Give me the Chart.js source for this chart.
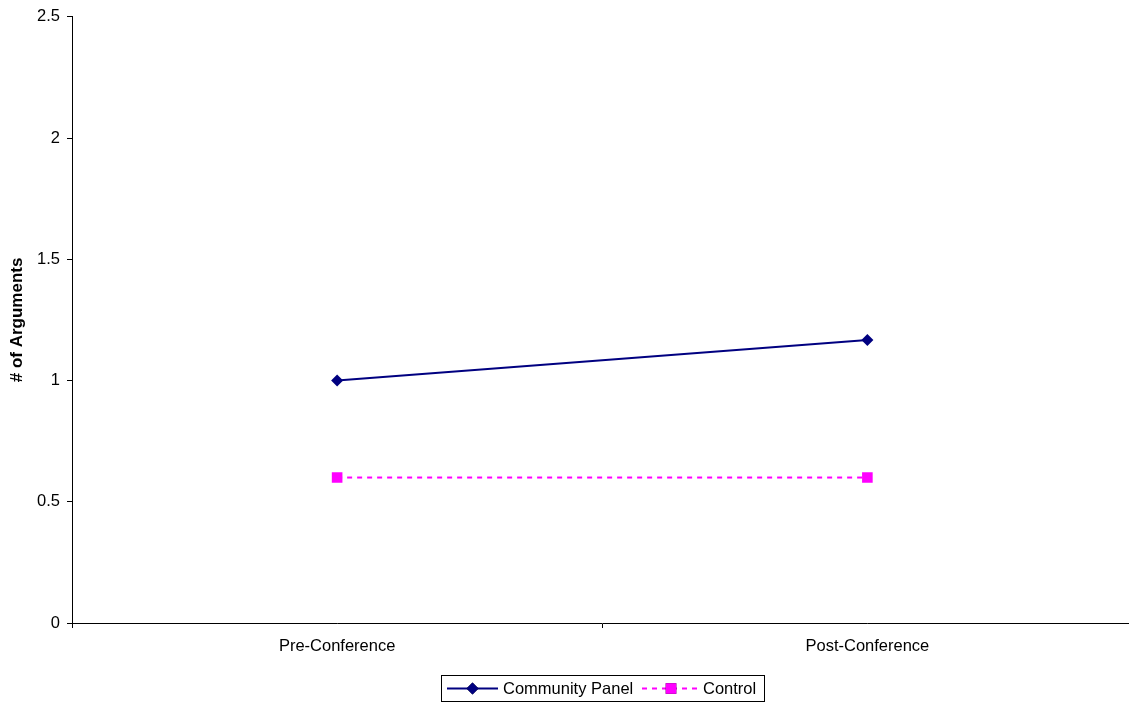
<!DOCTYPE html>
<html>
<head>
<meta charset="utf-8">
<title># of Arguments</title>
<script src="https://cdn.jsdelivr.net/npm/chart.js@4.4.1/dist/chart.umd.min.js"></script>
<style>
  html, body { margin: 0; padding: 0; background: #fff; overflow: hidden; }
  #wrap { position: relative; width: 1129px; height: 704px; overflow: hidden; }
  #chart { display: block; }
</style>
</head>
<body>
<div id="wrap"><canvas id="chart" width="1140" height="704"></canvas></div>
<script>
// Chart data
const categories = ['Pre-Conference', 'Post-Conference'];
const communityPanel = [1.0, 1.167];
const control = [0.6, 0.6];
const yTickLabels = ['0', '0.5', '1', '1.5', '2', '2.5'];
const seriesNames = ['Community Panel', 'Control'];

const FONT = '"Liberation Sans", Arial, Helvetica, sans-serif';
const TEXT_SIZE = 16.5;

// Boxed legend below the plot: line sample with marker, then the name
const boxedLegend = {
  id: 'boxedLegend',
  afterDraw(chart) {
    const ctx = chart.ctx;
    ctx.save();
    ctx.strokeStyle = '#000';
    ctx.lineWidth = 1;
    ctx.strokeRect(441.5, 675.5, 323, 26);
    const y = 688.5;
    const items = [
      { ds: chart.data.datasets[0], x0: 447, x1: 498, text: 503 },
      { ds: chart.data.datasets[1], x0: 642, x1: 700, text: 703 }
    ];
    items.forEach(it => {
      const ds = it.ds;
      ctx.beginPath();
      ctx.setLineDash(ds.borderDash || []);
      ctx.strokeStyle = ds.borderColor;
      ctx.lineWidth = ds.borderWidth;
      ctx.moveTo(it.x0, y);
      ctx.lineTo(it.x1, y);
      ctx.stroke();
      ctx.setLineDash([]);
      Chart.helpers.drawPoint(ctx, {
        pointStyle: ds.pointStyle,
        radius: ds.pointRadius,
        rotation: 0,
        borderWidth: 0
      }, (it.x0 + it.x1) / 2, y);
      ctx.fillStyle = ds.pointBackgroundColor;
      ctx.fill();
      ctx.fillStyle = '#000';
      ctx.font = TEXT_SIZE + 'px ' + FONT;
      ctx.textBaseline = 'middle';
      ctx.textAlign = 'left';
      ctx.fillText(ds.label, it.text, y + 1);
    });
    ctx.restore();
  }
};

new Chart(document.getElementById('chart'), {
  type: 'line',
  data: {
    labels: categories,
    datasets: [
      {
        label: seriesNames[0],
        data: communityPanel,
        borderColor: '#000080',
        backgroundColor: '#000080',
        pointBackgroundColor: '#000080',
        pointBorderColor: '#000080',
        borderWidth: 2,
        pointStyle: 'rectRot',
        pointRadius: 6,
        pointBorderWidth: 0,
        tension: 0,
        fill: false
      },
      {
        label: seriesNames[1],
        data: control,
        borderColor: '#FF00FF',
        backgroundColor: '#FF00FF',
        pointBackgroundColor: '#FF00FF',
        pointBorderColor: '#FF00FF',
        borderWidth: 2,
        borderDash: [5, 5],
        pointStyle: 'rect',
        pointRadius: 7.5,
        pointBorderWidth: 0,
        tension: 0,
        fill: false
      }
    ]
  },
  options: {
    responsive: false,
    animation: false,
    devicePixelRatio: 1,
    layout: { padding: { top: 6, right: 0, bottom: 0, left: 0 } },
    plugins: {
      legend: { display: false },
      tooltip: { enabled: false },
      title: { display: false }
    },
    scales: {
      x: {
        type: 'category',
        offset: true,
        grid: {
          offset: true,
          drawOnChartArea: false,
          drawTicks: true,
          tickLength: 5,
          color: '#000'
        },
        border: { color: '#000', width: 1 },
        ticks: {
          color: '#000',
          font: { family: FONT, size: TEXT_SIZE },
          padding: 9,
          maxRotation: 0,
          autoSkip: false
        },
        afterFit(scale) { scale.height = 81; }
      },
      y: {
        min: 0,
        max: 2.5,
        grid: {
          drawOnChartArea: false,
          drawTicks: true,
          tickLength: 5,
          color: '#000'
        },
        border: { color: '#000', width: 1 },
        ticks: {
          stepSize: 0.5,
          color: '#000',
          font: { family: FONT, size: TEXT_SIZE },
          padding: 7,
          callback: (v, i) => yTickLabels[i]
        },
        title: {
          display: true,
          text: '# of Arguments',
          color: '#000',
          font: { family: FONT, size: 17, weight: 'bold' },
          padding: { top: 7, bottom: 0 }
        },
        afterFit(scale) { scale.width = 72; }
      }
    }
  },
  plugins: [boxedLegend]
});
</script>
</body>
</html>
